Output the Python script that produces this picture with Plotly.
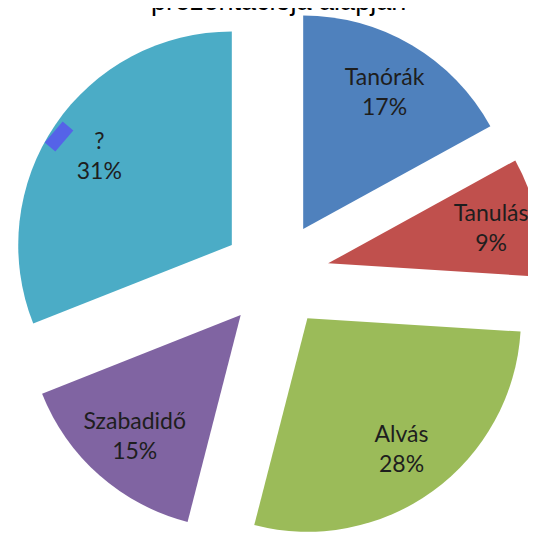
import plotly.graph_objects as go

labels = ["Tanórák", "Tanulás", "Alvás", "Szabadidő", "?"]
values = [17, 9, 28, 15, 31]
colors = ["#4F81BD", "#C0504D", "#9BBB59", "#8064A2", "#4BACC6"]
title_text = "prezentációja alapján"

dom = dict(x=[0, 1], y=[0, 1])

# the coloured wedges
fig = go.Figure(go.Pie(
    labels=labels, values=values, sort=False, direction="clockwise",
    rotation=0, pull=0.25,
    marker=dict(colors=colors, line=dict(width=0)),
    textinfo="none", domain=dom, showlegend=False,
    hoverinfo="label+percent",
))

# transparent ring on top, only to push the labels further out
fig.add_trace(go.Pie(
    labels=labels, values=values, sort=False, direction="clockwise",
    rotation=0, pull=0.25, hole=0.5,
    marker=dict(colors=["rgba(0,0,0,0)"] * len(labels), line=dict(width=0)),
    textinfo="label+percent", textposition="inside",
    insidetextorientation="horizontal",
    textfont=dict(family="Lato", size=23, color="#1e1e1e"),
    domain=dom, showlegend=False, hoverinfo="skip",
))

fig.add_annotation(
    text=title_text, xref="paper", yref="paper", x=270/536, y=1,
    xanchor="center", yanchor="middle", showarrow=False, yshift=7,
    font=dict(family="Liberation Sans", size=27, color="#000000"),
)

# small blue pen mark on the left wedge
fig.add_shape(type="line", xref="paper", yref="paper",
              x0=42/536, y0=1 - 139/534, x1=60/536, y1=1 - 118/534,
              line=dict(color="#5563E8", width=14))

fig.update_layout(
    width=536, height=534,
    margin=dict(l=0, r=0, t=0, b=0),
    paper_bgcolor="white",
    uniformtext=dict(minsize=23, mode="show"),
)

fig.write_html("out.html")
